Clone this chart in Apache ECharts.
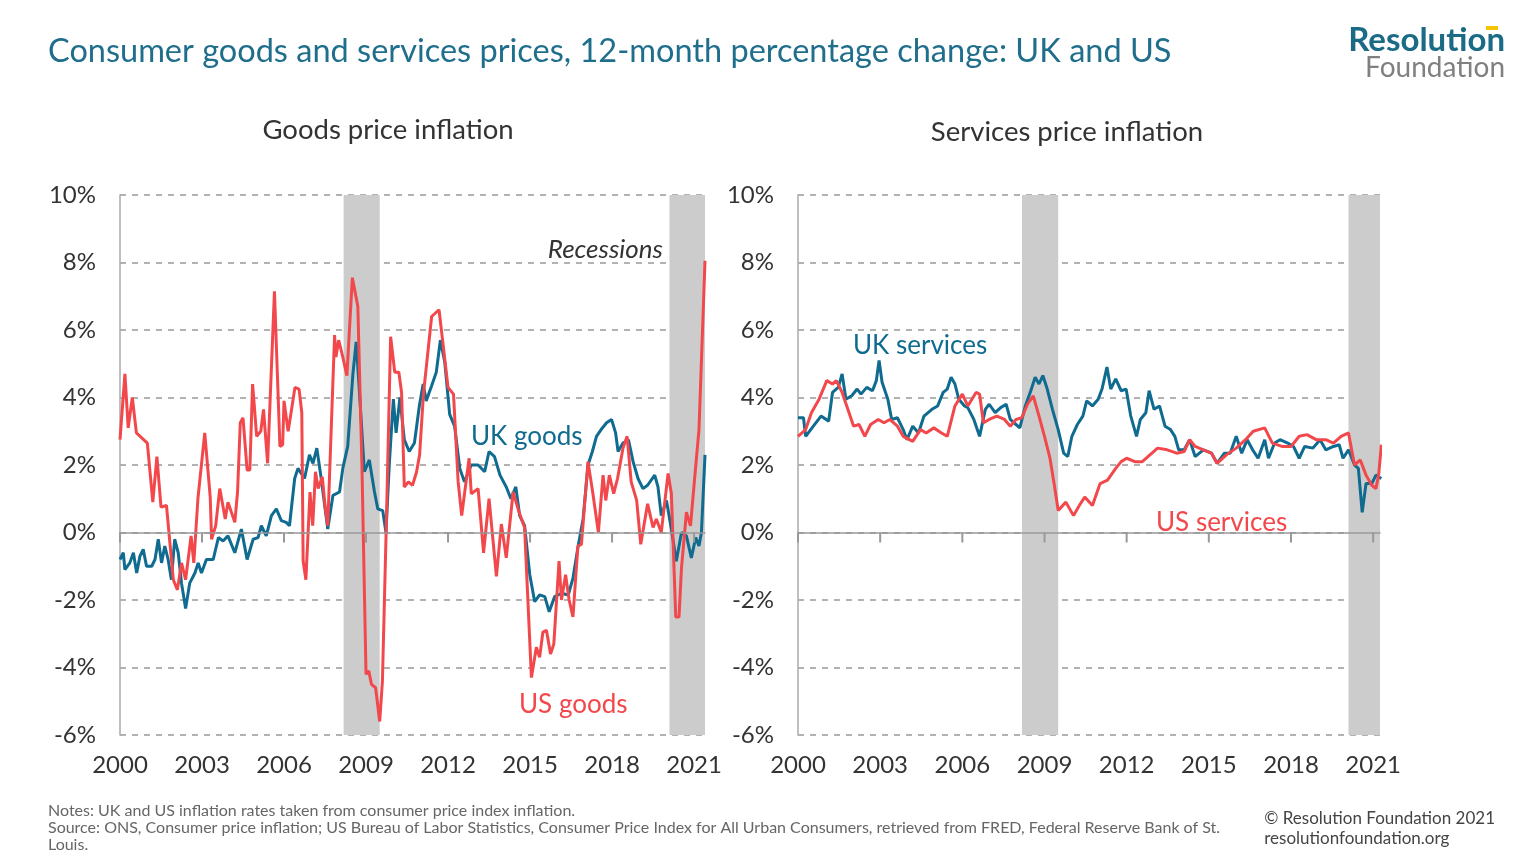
<!DOCTYPE html>
<html><head><meta charset="utf-8">
<script src="https://cdn.jsdelivr.net/npm/echarts@6/dist/echarts.min.js"></script>
<style>html,body{margin:0;padding:0;background:#fff}#c{width:1536px;height:864px}</style>
</head><body><div id="c"></div>
<script>
// years since 2000
const usGoodsT=[0,0.18,0.3,0.45,0.6,1.0,1.2,1.35,1.5,1.7,1.95,2.1,2.25,2.4,2.6,2.7,2.85,3.1,3.3,3.35,3.5,3.65,3.85,3.95,4.2,4.3,4.4,4.5,4.65,4.75,4.85,5.0,5.15,5.25,5.4,5.65,5.85,5.95,6.0,6.15,6.2,6.4,6.55,6.65,6.7,6.8,6.95,7.05,7.15,7.25,7.4,7.5,7.6,7.85,7.9,8.0,8.15,8.3,8.5,8.7,8.85,9.0,9.1,9.2,9.35,9.5,9.6,9.75,9.9,10.05,10.2,10.3,10.4,10.55,10.7,10.85,10.96,11.1,11.4,11.67,11.8,12.0,12.2,12.37,12.5,12.77,12.85,13.1,13.3,13.5,13.77,13.95,14.13,14.38,14.6,14.8,15.05,15.23,15.35,15.47,15.6,15.75,15.87,16.06,16.15,16.3,16.43,16.57,16.75,16.88,17.12,17.3,17.5,17.67,17.77,17.9,18.06,18.2,18.4,18.55,18.7,18.9,19.05,19.3,19.5,19.62,19.8,20.05,20.17,20.33,20.45,20.54,20.72,20.87,21.02,21.18,21.4];
const usGoodsV=[2.75,4.7,3.1,4.0,2.95,2.65,0.9,2.25,0.75,0.8,-1.4,-1.7,-0.9,-1.4,-0.1,-0.9,1.0,2.95,1.05,-0.2,0.2,1.3,0.4,0.9,0.3,1.2,3.25,3.4,1.85,1.85,4.4,2.85,3.0,3.65,2.05,7.15,2.55,2.6,3.9,3.0,3.25,4.3,4.25,3.55,-0.85,-1.4,1.2,0.2,1.8,1.3,1.65,0.8,0.2,5.85,5.2,5.7,5.2,4.65,7.55,6.7,2.0,-4.2,-4.1,-4.5,-4.6,-5.6,-4.4,0.5,5.8,4.75,4.75,4.15,1.35,1.5,1.4,1.8,2.3,4.1,6.4,6.6,5.7,4.3,4.1,1.5,0.5,2.2,1.15,1.3,-0.6,1.0,-1.3,0.25,-0.75,1.2,0.6,0.15,-4.3,-3.4,-3.7,-2.95,-2.9,-3.6,-3.3,-0.85,-2.0,-1.25,-2.0,-2.5,-0.4,-0.35,2.1,1.15,0,1.7,0.95,1.7,1.15,1.6,2.5,2.85,1.5,0.95,-0.35,0.85,0.15,0.4,0,1.75,1.15,-2.5,-2.5,-1.05,0.6,0.2,1.6,3.05,8.05];
const ukGoodsT=[0,0.12,0.18,0.36,0.49,0.61,0.73,0.85,0.97,1.16,1.28,1.4,1.52,1.64,1.76,1.88,2.0,2.13,2.25,2.4,2.55,2.74,2.86,2.98,3.16,3.41,3.6,3.77,3.95,4.2,4.44,4.65,4.87,5.05,5.17,5.35,5.54,5.72,5.9,6.08,6.2,6.39,6.51,6.75,6.93,7.06,7.2,7.36,7.6,7.79,8.03,8.15,8.33,8.52,8.64,8.76,8.94,9.12,9.31,9.43,9.61,9.73,9.85,10.0,10.1,10.24,10.4,10.58,10.77,10.95,11.09,11.2,11.4,11.57,11.72,11.88,12.06,12.24,12.43,12.6,12.85,13.1,13.34,13.5,13.7,13.9,14.13,14.3,14.48,14.62,14.8,14.99,15.17,15.35,15.54,15.7,15.9,16.15,16.4,16.57,16.76,16.94,17.12,17.28,17.43,17.6,17.8,17.98,18.13,18.22,18.4,18.6,18.77,18.95,19.13,19.3,19.56,19.68,19.8,19.99,20.17,20.35,20.54,20.72,20.9,21.06,21.18,21.27,21.4];
const ukGoodsV=[-0.8,-0.6,-1.1,-0.9,-0.6,-1.2,-0.7,-0.5,-1.0,-1.0,-0.8,-0.2,-0.9,-0.4,-0.8,-1.4,-0.2,-0.6,-1.5,-2.25,-1.5,-1.2,-0.9,-1.2,-0.8,-0.8,-0.15,-0.25,-0.1,-0.6,0.1,-0.8,-0.2,-0.15,0.2,-0.1,0.5,0.7,0.35,0.3,0.2,1.6,1.9,1.6,2.3,2.05,2.5,1.6,0.1,1.1,1.2,1.9,2.55,4.7,5.65,4.15,1.8,2.15,1.2,0.7,0.65,0,2.0,3.95,2.95,4.0,2.75,2.4,2.65,3.75,4.4,3.9,4.35,4.75,5.7,5.05,3.5,3.15,1.9,1.5,2.0,2.0,1.8,2.4,2.25,1.7,1.35,1.0,1.35,0.5,0.2,-1.25,-2.05,-1.85,-1.9,-2.35,-1.9,-1.8,-1.85,-1.35,-0.4,0.4,2.0,2.4,2.85,3.05,3.25,3.35,2.95,2.4,2.65,2.75,2.1,1.6,1.3,1.4,1.7,1.35,0.5,0.95,0.1,-0.85,0,-0.1,-0.75,-0.15,-0.4,0,2.3];
const ukServT=[0,0.2,0.28,0.56,0.84,1.12,1.26,1.47,1.61,1.75,1.96,2.16,2.3,2.51,2.72,2.86,2.96,3.07,3.28,3.42,3.63,3.84,3.98,4.19,4.4,4.6,4.89,5.1,5.3,5.45,5.59,5.73,5.87,6.08,6.2,6.42,6.63,6.84,6.98,7.2,7.4,7.6,7.75,7.96,8.1,8.3,8.5,8.66,8.8,8.94,9.1,9.29,9.5,9.7,9.85,10.0,10.2,10.4,10.54,10.75,10.96,11.1,11.28,11.42,11.6,11.8,11.98,12.15,12.36,12.5,12.7,12.82,13.0,13.2,13.4,13.6,13.76,13.9,14.1,14.3,14.5,14.8,15.1,15.3,15.57,15.78,16.0,16.2,16.4,16.6,16.8,17.04,17.18,17.4,17.6,17.88,18.09,18.3,18.5,18.8,19.06,19.27,19.55,19.76,19.9,20.1,20.32,20.46,20.6,20.74,20.95,21.1,21.3];
const ukServV=[3.4,3.4,2.85,3.15,3.45,3.3,4.15,4.3,4.7,3.95,4.05,4.25,4.1,4.3,4.2,4.5,5.1,4.45,3.95,3.35,3.4,3.05,2.75,3.15,2.95,3.45,3.65,3.75,4.15,4.25,4.6,4.4,3.95,3.75,3.7,3.35,2.85,3.65,3.8,3.55,3.7,3.8,3.35,3.2,3.1,3.75,4.2,4.6,4.4,4.65,4.25,3.65,3.05,2.35,2.25,2.85,3.2,3.45,3.9,3.75,3.95,4.25,4.9,4.25,4.55,4.2,4.25,3.45,2.85,3.35,3.55,4.2,3.65,3.75,3.15,3.05,2.85,2.45,2.45,2.75,2.25,2.45,2.35,2.05,2.35,2.35,2.85,2.35,2.75,2.45,2.2,2.75,2.2,2.65,2.75,2.65,2.55,2.2,2.55,2.5,2.75,2.45,2.55,2.6,2.2,2.45,2.0,1.9,0.6,1.45,1.45,1.7,1.6];
const usServT=[0,0.28,0.49,0.77,1.05,1.26,1.4,1.61,1.82,2.03,2.23,2.44,2.65,2.93,3.14,3.35,3.63,3.84,4.19,4.47,4.68,4.96,5.24,5.45,5.73,6.0,6.2,6.5,6.63,6.77,6.98,7.26,7.54,7.75,7.96,8.17,8.38,8.59,8.8,9.0,9.2,9.36,9.5,9.78,10.06,10.27,10.47,10.75,11.03,11.3,11.6,11.8,12.0,12.3,12.57,12.85,13.13,13.48,13.83,14.1,14.3,14.5,14.8,15.1,15.3,15.64,16.0,16.34,16.62,17.04,17.32,17.67,18.0,18.3,18.58,18.92,19.27,19.55,19.83,20.1,20.32,20.53,20.74,20.95,21.1,21.2,21.3];
const usServV=[2.85,3.05,3.55,3.95,4.5,4.4,4.5,4.15,3.65,3.15,3.2,2.85,3.2,3.35,3.25,3.35,3.15,2.85,2.7,3.05,2.95,3.1,2.95,2.85,3.75,4.1,3.75,4.15,4.1,3.25,3.35,3.45,3.35,3.15,3.35,3.4,3.8,4.05,3.45,2.85,2.2,1.4,0.65,0.9,0.5,0.8,1.05,0.8,1.45,1.55,1.9,2.1,2.2,2.1,2.1,2.3,2.5,2.45,2.35,2.4,2.75,2.55,2.45,2.35,2.05,2.3,2.5,2.75,3.0,3.1,2.65,2.55,2.55,2.85,2.9,2.75,2.75,2.65,2.85,2.95,2.0,2.15,1.7,1.4,1.3,1.7,2.6];
const recessions=[[8.18,9.5],[20.1,21.45]];
const xTicks=[0,3,6,9,12,15,18,21];

const BLUE='#0f6b8f', RED='#f2484c', FONT='Lato, "Noto Sans", sans-serif';
const zip=(t,v)=>t.map((x,i)=>[x,v[i]]);
const grids=[{left:120,right:831,top:195,bottom:129},{left:798,right:156,top:195,bottom:129}];
function xAxes(gi,max){return [
 {type:'value',gridIndex:gi,min:0,max:max,interval:3,position:'top',axisLine:{onZero:true,lineStyle:{color:'#999',width:1.5}},axisTick:{show:false},axisLabel:{show:false},splitLine:{show:false},z:5},
 {type:'value',gridIndex:gi,min:0,max:max,interval:3,position:'bottom',axisLine:{show:false,onZero:false},axisTick:{show:false},splitLine:{show:false},
  axisLabel:{color:'#333',fontSize:24,fontFamily:FONT,margin:18,formatter:v=>String(2000+v)}}];}
function yAxis(gi){return {type:'value',gridIndex:gi,min:-6,max:10,interval:2,axisLine:{show:true,lineStyle:{color:'#aaa',width:1.5}},axisTick:{show:false},
 axisLabel:{color:'#333',fontSize:24,fontFamily:FONT,margin:24,formatter:v=>v+'%'},splitLine:{lineStyle:{color:'#999',type:[6,6],width:1.5}}};}
function line(name,data,color,xi,yi,ma){const s={name,type:'line',xAxisIndex:xi,yAxisIndex:yi,data,showSymbol:false,lineStyle:{color,width:3},itemStyle:{color},z:3};
 if(ma){s.markArea={silent:true,itemStyle:{color:'#cccccc'},data:recessions.map(r=>[{xAxis:r[0]},{xAxis:r[1]}])};}return s;}
function ticks(name,xi,yi){return {name,type:'custom',xAxisIndex:xi,yAxisIndex:yi,data:xTicks.map(t=>[t,0]),clip:false,silent:true,z:6,
 renderItem:(p,api)=>{const c=api.coord([api.value(0),0]);return {type:'line',shape:{x1:c[0],y1:c[1],x2:c[0],y2:c[1]+10},style:{stroke:'#999',lineWidth:2}};}};}
const chart=echarts.init(document.getElementById('c'));
chart.setOption({
 animation:false,
 grid:grids,
 xAxis:[...xAxes(0,21.4),...xAxes(1,21.25)],
 yAxis:[yAxis(0),yAxis(1)],
 series:[ticks('ticksL',0,0),ticks('ticksR',2,1),
   line('UK goods',zip(ukGoodsT,ukGoodsV),BLUE,0,0,true),line('US goods',zip(usGoodsT,usGoodsV),RED,0,0,false),
   line('UK services',zip(ukServT,ukServV),BLUE,2,1,true),line('US services',zip(usServT,usServV),RED,2,1,false)],
 graphic:[
  {type:'text',left:48,top:35,style:{text:'Consumer goods and services prices, 12-month percentage change: UK and US',fill:'#1f6e8c',font:'32.5px '+FONT}},
  {type:'text',right:31,top:24,style:{text:'Resolution',fill:'#1b6a86',font:'bold 33px '+FONT}},
  {type:'text',right:31,top:54,style:{text:'Foundation',fill:'#808080',font:'28px '+FONT}},
  {type:'rect',shape:{x:1486,y:26,width:12,height:4},style:{fill:'#f5c400'}},
  {type:'text',x:388,y:130,style:{text:'Goods price inflation',fill:'#333',font:'27.5px '+FONT,align:'center',verticalAlign:'middle'}},
  {type:'text',x:1067,y:132,style:{text:'Services price inflation',fill:'#333',font:'27.5px '+FONT,align:'center',verticalAlign:'middle'}},
  {type:'text',x:663,y:250,style:{text:'Recessions',fill:'#333',font:'italic 26px '+FONT,align:'right',verticalAlign:'middle'},z:10},
  {type:'text',x:471,y:437,style:{text:'UK goods',fill:BLUE,font:'26px '+FONT,verticalAlign:'middle'},z:10},
  {type:'text',x:519,y:705,style:{text:'US goods',fill:RED,font:'26px '+FONT,verticalAlign:'middle'},z:10},
  {type:'text',x:853,y:346,style:{text:'UK services',fill:BLUE,font:'26px '+FONT,verticalAlign:'middle'},z:10},
  {type:'text',x:1156,y:523,style:{text:'US services',fill:RED,font:'26px '+FONT,verticalAlign:'middle'},z:10},
  {type:'text',left:48,top:802,style:{text:'Notes: UK and US inflation rates taken from consumer price index inflation.\nSource: ONS, Consumer price inflation; US Bureau of Labor Statistics, Consumer Price Index for All Urban Consumers, retrieved from FRED, Federal Reserve Bank of St.\nLouis.',fill:'#666',font:'16px '+FONT,lineHeight:17}},
  {type:'text',right:41,top:809,style:{text:'© Resolution Foundation 2021\nresolutionfoundation.org',fill:'#444',font:'17px '+FONT,lineHeight:20,align:'right'}}
 ]
});
</script></body></html>
